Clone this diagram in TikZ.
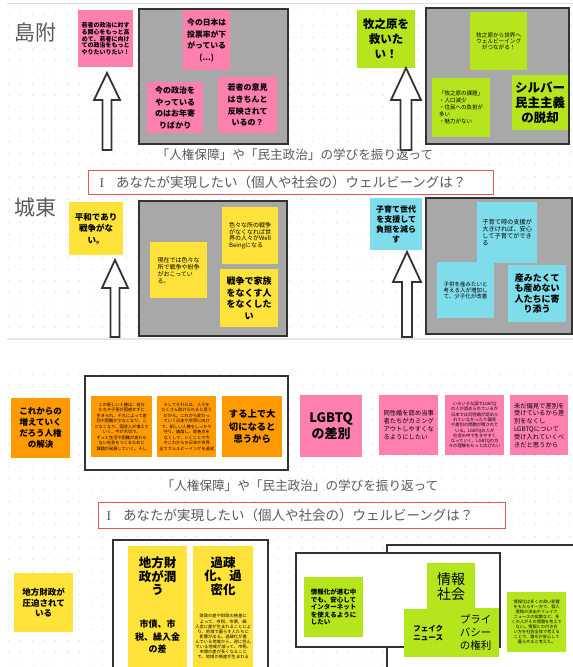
\documentclass[tikz,border=0pt]{standalone}
\usepackage{fontspec}
\setmainfont{Noto Sans CJK JP}
\newfontfamily\serifI{Liberation Serif}
\XeTeXlinebreaklocale "ja"
\definecolor{pinkS}{HTML}{FF7FAE}
\definecolor{limeS}{HTML}{B5E61D}
\definecolor{yellowS}{HTML}{FFE33A}
\definecolor{cyanS}{HTML}{7FDCEA}
\definecolor{orangeS}{HTML}{FF9A00}
\definecolor{gboxc}{HTML}{A8A8A8}
\definecolor{dotc}{HTML}{D4D4D4}
\definecolor{headc}{HTML}{5A5A5A}
\definecolor{redb}{HTML}{E05A55}
\definecolor{darkb}{HTML}{333333}
\tikzset{
  stk/.style={anchor=north west, inner sep=1pt, align=center, text=black},
  stkl/.style={anchor=north west, inner sep=2pt, align=left, text=black},
  gbox/.style={anchor=north west, draw=darkb, line width=1.5pt, fill=gboxc, inner sep=0pt},
  wbox/.style={draw=darkb, line width=1.6pt, fill=white},
  harrow/.style={draw=darkb, line width=1.8pt, fill=white, line join=miter},
  heading/.style={text=headc, font=\fontsize{21}{24}\selectfont},
  subline/.style={text=headc, font=\fontsize{12.6}{15}\selectfont},
  question/.style={draw=redb, line width=1.2pt, fill=white, anchor=north west, inner sep=0pt},
}
\newcommand{\stk}[8]{\node[stk, fill=#2, minimum width=#5, minimum height=#6, font=#7] (#1) at (#3,#4) {#8};}
\newcommand{\stkL}[8]{\node[stkl, fill=#2, minimum width=#5, minimum height=#6, font=#7] (#1) at (#3,#4) {#8};}
\newcommand{\hollowarrow}[6]{% cx, tip y, head base y, bottom y, head half, shaft half
  \draw[harrow] (#1,#2) -- ({#1+#5},#3) -- ({#1+#6},#3) -- ({#1+#6},#4) -- ({#1-#6},#4) -- ({#1-#6},#3) -- ({#1-#5},#3) -- cycle;}
\begin{document}
\begin{tikzpicture}[x=1pt,y=-1pt]
\useasboundingbox (0,0) rectangle (573,667);
\fill[white] (0,0) rectangle (573,667);
% dot grids
\foreach \i in {0,...,48}{\foreach \j in {0,...,28}{\fill[dotc] ({9+\i*11.7},{14+\j*11.6}) circle[radius=0.65pt];}}
\foreach \i in {0,...,48}{\foreach \j in {0,...,25}{\fill[dotc] ({9+\i*11.7},{374+\j*11.6}) circle[radius=0.65pt];}}
\draw[gray!25, line width=0.8pt] (7,3) -- (573,3);
\draw[gray!20, line width=2pt] (7,339) -- (573,339);

% ===== top panel : 島附 =====
\node[heading] (h1) at (36,32) {島附};
\stk{p1}{pinkS}{78}{10}{55}{57}{\fontsize{6}{6.7}\selectfont\bfseries}{若者の政治に対す\\る関心をもっと高\\めて、若者に向け\\ての政治をもっと\\やりたいりたい！}
\hollowarrow{107}{73}{100}{150}{13}{4.5}
\node[gbox, minimum width=149, minimum height=135] (g1) at (138,8) {};
\stk{p2}{pinkS}{183}{10}{47}{60}{\fontsize{7.8}{11.5}\selectfont\bfseries}{今の日本は\\投票率が下\\がっている\\(...)}
\stk{p3}{pinkS}{147}{82}{56}{51}{\fontsize{8}{11.7}\selectfont\bfseries}{今の政治を\\やっている\\のはお年寄\\りばかり}
\stk{p4}{pinkS}{218}{77}{59}{56}{\fontsize{8}{11.7}\selectfont\bfseries}{若者の意見\\はきちんと\\反映されて\\いるの？}

\stk{l1}{limeS}{357}{10}{58}{58}{\fontsize{11.5}{15}\selectfont\bfseries}{牧之原を\\救いた\\い！}
\hollowarrow{406}{68}{100}{150}{15}{5.5}
\node[gbox, minimum width=143, minimum height=136] (g2) at (425,7) {};
\stk{l2}{limeS}{470}{12}{57}{58}{\fontsize{5.6}{6.3}\selectfont}{牧之原から世界へ\\ウェルビーイング\\がつながる！}
\stkL{l3}{limeS}{432}{78}{58}{59}{\fontsize{5.5}{7}\selectfont}{「牧之原の課題」\\・人口減少\\・住民への負担が\\多い\\・魅力がない}
\stk{l4}{limeS}{512}{75}{56}{55}{\fontsize{12.5}{15}\selectfont\bfseries}{シルバー\\民主主義\\の脱却}

% question block 1
\node[subline] (s1) at (295,155) {「人権保障」や「民主政治」の学びを振り返って};
\node[question, minimum width=405, minimum height=24] (q1) at (88,170) {};
\node[anchor=west, text=headc, font=\fontsize{13.5}{16}\selectfont] (q1t) at (96,182.5) {{\serifI I}\hspace{12pt}あなたが実現したい（個人や社会の）ウェルビーングは？};

% ===== 城東 =====
\node[heading] (h2) at (35,208) {城東};
\stk{y1}{yellowS}{69}{202}{54}{53}{\fontsize{8.5}{11.5}\selectfont\bfseries}{平和であり\\戦争がな\\い。}
\hollowarrow{115}{260}{288}{337}{13}{4.5}
\node[gbox, minimum width=148, minimum height=135] (g3) at (138,200) {};
\stkL{y2}{yellowS}{150}{242}{57}{56}{\fontsize{6}{7}\selectfont}{現在では色々な\\所で戦争や紛争\\がおこってい\\る。}
\stkL{y3}{yellowS}{222}{207}{56}{57}{\fontsize{6}{6.8}\selectfont}{色々な所の戦争\\がなくなれば世\\界の人々がWell\\Beingになる}
\stk{y4}{yellowS}{220}{269}{58}{58}{\fontsize{9}{11.5}\selectfont\bfseries}{戦争で家族\\をなくす人\\をなくした\\い}

\stk{c1}{cyanS}{370}{198}{52}{52}{\fontsize{8}{10}\selectfont\bfseries}{子育て世代\\を支援して\\負担を減ら\\す}
\hollowarrow{407}{252}{282}{337}{14}{5}
\node[gbox, minimum width=146, minimum height=136] (g4) at (425,197) {};
\stkL{c2}{cyanS}{477}{202}{60}{61}{\fontsize{6.2}{7}\selectfont}{子育て時の支援が\\大きければ、安心\\して子育てができ\\る}
\stkL{c3}{cyanS}{437}{262}{57}{56}{\fontsize{5.5}{5.8}\selectfont}{子供を産みたいと\\考える人が増加し\\て、少子化が改善}
\stk{c4}{cyanS}{508}{265}{58}{57}{\fontsize{9}{10.5}\selectfont\bfseries}{産みたくて\\も産めない\\人たちに寄\\り添う}

% ===== bottom panel =====
\stk{o1}{orangeS}{11}{398}{59}{60}{\fontsize{8.5}{11}\selectfont\bfseries}{これからの\\増えていく\\だろう人権\\の解決}
\draw[wbox] (85,376) rectangle (288,470);
\stk{o2}{orangeS}{91}{396}{61}{61}{\fontsize{4.2}{5.5}\selectfont}{この新しい人権は、自分\\たちや子孫が困惑せずに\\生きられ、それによって差\\別や困難が少なくなり、こ\\となくなり、国会人が増えて\\いく。今が大切で、\\ずっと生活や困難が変わら\\ない社会をつくるために\\課題が発展していく。そし}
\stk{o3}{orangeS}{157}{396}{59}{61}{\fontsize{4.2}{5.5}\selectfont}{そしてそれらは、人々を\\たくさん助けられると思う\\だから。これから変わっ\\ていく日本や世界に向け\\て、新しい人権をしっかり\\守り、議論し、改善点を\\なくして、いくことで今\\やこれからの日本や世界\\全てウェルビーイングを達成}
\stk{o4}{orangeS}{222}{396}{60}{61}{\fontsize{9.3}{12.5}\selectfont\bfseries}{する上で大\\切になると\\思うから}

\stk{q1}{pinkS}{300}{395}{62}{62}{\fontsize{13}{15.5}\selectfont\bfseries}{LGBTQ\\の差別}
\stkL{q2}{pinkS}{379}{395}{59}{60}{\fontsize{6.3}{8}\selectfont}{同性婚を認め当事\\者たちがカミング\\アウトしやすくな\\るようにしたい}
\stk{q3}{pinkS}{445}{395}{59}{60}{\fontsize{4.3}{5.3}\selectfont}{いろいろな国でLGBTQ\\の人が認められているが\\日本では同性婚が認めら\\れていなかったり偏見\\や差別の問題が残されて\\いる。LGBTQの人が\\社会の中で生きやすく\\なっていく、LGBTQの方\\々の理解をもっと広げたい}
\stkL{q4}{pinkS}{510}{395}{58}{60}{\fontsize{6.3}{7.8}\selectfont}{未だ偏見で差別を\\受けているから差\\別をなくし\\LGBTQについて\\受け入れていくべ\\きだと思うから}

% question block 2
\node[subline] (s2) at (300,486) {「人権保障」や「民主政治」の学びを振り返って};
\node[question, minimum width=407, minimum height=26] (qq2) at (98,502) {};
\node[anchor=west, text=headc, font=\fontsize{13.5}{16}\selectfont] (q2t) at (103,515) {{\serifI I}\hspace{12pt}あなたが実現したい（個人や社会の）ウェルビーングは？};

\stk{r1}{yellowS}{14}{573}{59}{59}{\fontsize{8.5}{10.5}\selectfont\bfseries}{地方財政が\\圧迫されて\\いる}
\draw[wbox] (113,540) -- (268,540) -- (268,672) -- (113,672) -- cycle;
\stk{r2}{yellowS}{128}{546}{59}{60}{\fontsize{12.5}{13.5}\selectfont\bfseries}{地方財\\政が潤\\う}
\stk{r3}{yellowS}{193}{546}{60}{60}{\fontsize{12.5}{13.5}\selectfont\bfseries}{過疎\\化、過\\密化}
\stk{r4}{yellowS}{128}{606}{59}{61}{\fontsize{9}{12.5}\selectfont\bfseries}{市債、市\\税、繰入金\\の差}
\stk{r5}{yellowS}{193}{606}{60}{61}{\fontsize{4.3}{5.1}\selectfont}{財政の差や財政の格差に\\よって、市税、市債、繰\\入金に差が生まれることによ\\り、地域で暮らす人たちに\\影響が出る。過疎化が進\\んでいる地域から、逆に住ん\\でいる地域が減って、市税、\\市債の差が多くなること\\で、地域の格差が生まれる}

\draw[wbox] (387,545) -- (576,545) -- (576,672) -- (387,672) -- cycle;
\draw[wbox] (296,553) rectangle (500,647);
\stkL{m1}{limeS}{304}{577}{59}{60}{\fontsize{6.5}{7.5}\selectfont\bfseries}{情報化が進む中\\でも、安心して\\インターネット\\を使えるように\\したい}
\stk{m2}{limeS}{427}{563}{48}{47}{\fontsize{14}{15.5}\selectfont}{情報\\社会}
\stk{m3}{limeS}{404}{609}{48}{48}{\fontsize{7.5}{9}\selectfont\bfseries}{フェイク\\ニュース}
\stk{m4}{limeS}{452}{608}{47}{49}{\fontsize{10.5}{13}\selectfont}{プライ\\バシー\\の権利}
\stk{m5}{limeS}{507}{592}{59}{60}{\fontsize{4.2}{5}\selectfont}{情報化は多くの良い影響\\をもたらす一方で、個人\\情報の流出やフェイク\\ニュースの拡散など、多\\くの人がその問題を考えて\\ない。情報との付き合\\い方を社会全体で考える\\ことで、誰もが安心して\\暮らせると考えた。}
\end{tikzpicture}
\end{document}
